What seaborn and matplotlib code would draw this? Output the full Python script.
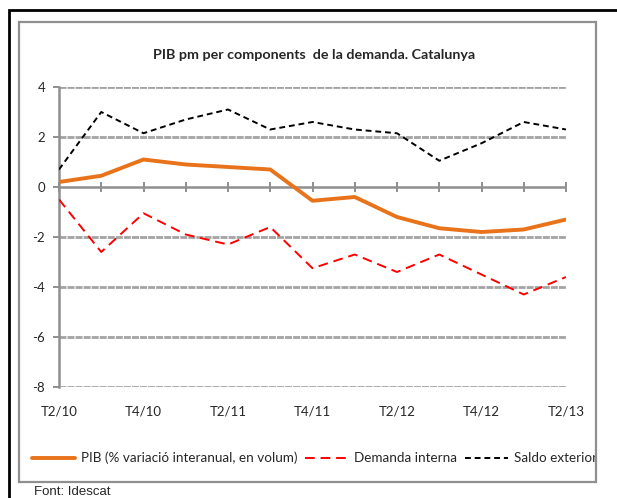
import matplotlib
matplotlib.use("Agg")
import matplotlib.pyplot as plt
import seaborn as sns
import pandas as pd
import numpy as np
from matplotlib.patches import Rectangle
from matplotlib.lines import Line2D
from matplotlib.transforms import Bbox

quarters = ["T2/10", "T3/10", "T4/10", "T1/11", "T2/11", "T3/11", "T4/11",
            "T1/12", "T2/12", "T3/12", "T4/12", "T1/13", "T2/13"]
pib = [0.2, 0.45, 1.1, 0.9, 0.8, 0.7, -0.55, -0.4, -1.2, -1.65, -1.8, -1.7, -1.3]
demanda = [-0.5, -2.6, -1.05, -1.9, -2.3, -1.6, -3.25, -2.7, -3.4, -2.7, -3.5, -4.3, -3.6]
saldo = [0.7, 3.0, 2.15, 2.7, 3.1, 2.3, 2.6, 2.3, 2.15, 1.05, 1.75, 2.6, 2.3]
yticks = [4, 2, 0, -2, -4, -6, -8]
labels = ["PIB (% variació interanual, en volum)", "Demanda interna", "Saldo exterior"]

sns.set_style("white")
plt.rcParams['font.family'] = ['Lato', 'DejaVu Sans']

W, H = 617, 498
fig = plt.figure(figsize=(W / 100, H / 100), dpi=100)

GRAY = '#8f8f8f'
ORANGE = '#E8731A'

# borders
fig.patches.append(Rectangle((9 / W, -0.1), 1.2, 1 - 10 / H + 0.1, transform=fig.transFigure,
                             fill=False, edgecolor='black', lw=2.0, zorder=0))
fig.patches.append(Rectangle((19 / W, 1 - 482 / H), (596 - 19) / W, (482 - 22) / H,
                             transform=fig.transFigure, fill=False, edgecolor=GRAY,
                             lw=1.6, zorder=0))

ax = fig.add_axes([59 / W, 1 - 387 / H, (566 - 59) / W, 300 / H])
x = np.arange(len(quarters))
df = pd.DataFrame({"x": x, "pib": pib, "demanda": demanda, "saldo": saldo})

for yv in [4, 2, -2, -4, -6, -8]:
    ax.axhline(yv, color='#a3a3a3', lw=2.0, ls=(0, (2.5, 0.4)), zorder=1)
ax.axhline(0, color=GRAY, lw=1.8, zorder=1)

sns.lineplot(data=df, x="x", y="pib", ax=ax, color=ORANGE, lw=2.8, zorder=3)
sns.lineplot(data=df, x="x", y="demanda", ax=ax, color='#FF0000', lw=1.4, zorder=3)
ax.lines[-1].set_linestyle((0, (5, 3)))
sns.lineplot(data=df, x="x", y="saldo", ax=ax, color='black', lw=1.4, zorder=3)
ax.lines[-1].set_linestyle((0, (3, 2)))

ax.set_xlim(0, len(quarters) - 1)
ax.set_ylim(-8, 4)
ax.set_yticks(yticks)
ax.set_yticklabels([str(v) for v in yticks])
ax.set_xticks(x)
ax.set_xticklabels([q if i % 2 == 0 else "" for i, q in enumerate(quarters)])
ax.set_xlabel("")
ax.set_ylabel("")
ax.tick_params(axis='x', length=0, pad=13, labelsize=9.5)
ax.tick_params(axis='y', length=4, color=GRAY, width=1.4, labelsize=9.5, pad=6, left=True)
for s in ['top', 'right', 'bottom']:
    ax.spines[s].set_visible(False)
ax.spines['left'].set_color(GRAY)
ax.spines['left'].set_linewidth(1.8)

# zero axis with crossing ticks
sec = ax.secondary_xaxis(8 / 12)
sec.set_xticks(x)
sec.tick_params(axis='x', direction='inout', length=7, width=1.4, color=GRAY,
                labelbottom=False, labeltop=False, bottom=True, top=False)
sec.spines['bottom'].set_visible(False)
sec.spines['top'].set_visible(False)

fig.text(314 / W, 1 - 55 / H, "PIB pm per components  de la demanda. Catalunya",
         ha='center', va='center', fontsize=10.3, fontweight='bold')

handles = [Line2D([], [], color=ORANGE, lw=2.8),
           Line2D([], [], color='#FF0000', lw=1.4, ls=(0, (5, 3))),
           Line2D([], [], color='black', lw=1.4, ls=(0, (3, 2)))]
leg = fig.legend(handles, labels, loc='center left', bbox_to_anchor=(28 / W, 1 - 458 / H),
                 ncol=3, frameon=False, fontsize=9.7, handlelength=3.2, handletextpad=0.45,
                 columnspacing=0.55, borderaxespad=0, borderpad=0.3)
clip = Bbox.from_extents(0, 0, 595, H)
for t in leg.get_texts():
    t.set_clip_box(clip)
    t.set_clip_on(True)

fig.text(34 / W, 1 - 492 / H, "Font: Idescat", ha='left', va='center', fontsize=9.5,
         family=['Liberation Sans', 'DejaVu Sans'])

fig.savefig("out.png", dpi=100)
